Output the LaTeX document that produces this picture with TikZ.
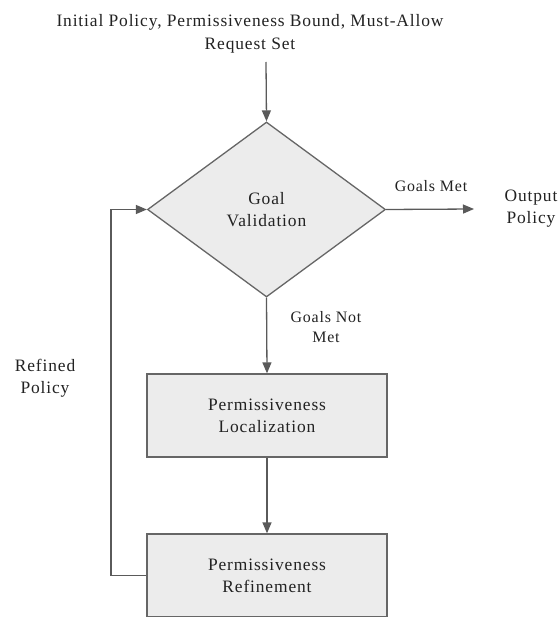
\documentclass[tikz,border=0pt]{standalone}
\usepackage{fontspec}
\setmainfont{Liberation Serif}[LetterSpace=5]
\usetikzlibrary{shapes.geometric,arrows.meta}
\definecolor{boxfill}{HTML}{ECECEC}
\definecolor{edgecol}{HTML}{666666}
\definecolor{arrcol}{HTML}{5A5A5A}
\definecolor{txtcol}{HTML}{222222}
\tikzset{
  procbox/.style={draw=edgecol, fill=boxfill, line width=1.3bp, minimum width=240bp, minimum height=83bp, inner sep=0pt, align=center, font=\fontsize{17.5}{22}\selectfont, text=txtcol},
  flow/.style={draw=arrcol, line width=1.3bp, -{Triangle[length=11bp,width=9bp]}},
  lbl/.style={align=center, text=txtcol, inner sep=0pt},
  biglbl/.style={lbl, font=\fontsize{17.5}{23}\selectfont},
  smalllbl/.style={lbl, font=\fontsize{16}{20}\selectfont},
}
\begin{document}
\begin{tikzpicture}[x=1bp,y=-1bp]
\useasboundingbox (0,0) rectangle (560,617);
\begin{scope}
\clip (0,0) rectangle (560,617);
\node[biglbl] (input) at (250,34) {Initial Policy, Permissiveness Bound, Must-Allow\\Request Set};
\coordinate (instart) at (266,62);
\node[draw=edgecol, fill=boxfill, line width=1.3bp, diamond, minimum width=238bp, minimum height=175bp, inner sep=0pt, shape aspect=1.36, font=\fontsize{17.5}{22}\selectfont, align=center, text=txtcol] (goal) at (266.5,209.5) {Goal\\Validation};
\node[procbox] (loc) at (267,415.5) {Permissiveness\\Localization};
\node[procbox] (ref) at (267,575.5) {Permissiveness\\Refinement};
\node[biglbl, font=\fontsize{17.5}{22}\selectfont] (out) at (531,209) {Output\\Policy};
\coordinate (outend) at (474,209);
\coordinate (loopcorner1) at (111,575.5);
\coordinate (loopcorner2) at (111,209.5);
\node[smalllbl] (met) at (431,186) {Goals Met};
\node[smalllbl] (notmet) at (326,327) {Goals Not\\Met};
\node[biglbl, font=\fontsize{17.5}{22}\selectfont] (refined) at (45,378) {Refined\\Policy};
\draw[flow] (instart) -- (goal.north);
\draw[flow] (goal.east) -- (outend);
\draw[flow] (goal.south) -- (loc.north);
\draw[flow] (loc.south) -- (ref.north);
\draw[flow] (ref.west) -- (loopcorner1) -- (loopcorner2) -- (goal.west);
\end{scope}
\end{tikzpicture}
\end{document}
